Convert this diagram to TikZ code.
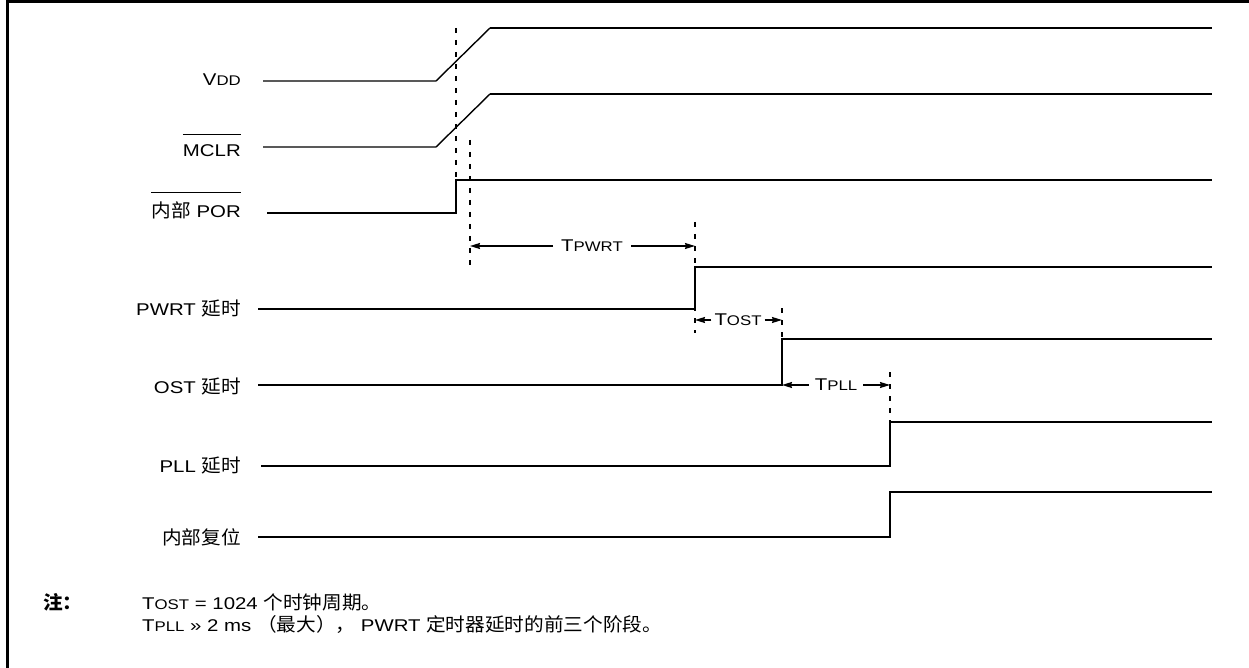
\documentclass[tikz,border=0pt]{standalone}
\usepackage{fontspec}
\setmainfont{Liberation Sans}[FakeStretch=1.2]
\newfontfamily\cjk{Noto Sans CJK SC}[FakeStretch=1.05,Scale=1.1]
\usetikzlibrary{arrows.meta}
\newcommand\smc[1]{{\fontsize{14}{14}\selectfont #1}}
\begin{document}
\begin{tikzpicture}[x=1pt,y=-1pt,
  lab/.style={anchor=base east, inner sep=0pt, font=\fontsize{17}{17}\selectfont},
  note/.style={anchor=base west, inner sep=0pt, font=\fontsize{17}{17}\selectfont},
  sig/.style={line width=2pt, line join=miter},
  thinsig/.style={line width=1.4pt, line join=miter},
  guide/.style={line width=1.8pt, dash pattern=on 5pt off 7pt},
  dimarrow/.style={line width=1.5pt, -{Stealth[length=10pt,width=6pt,inset=1pt]}},
  tlab/.style={inner ysep=0pt, font=\fontsize{17}{17}\selectfont, anchor=center},
  ovl/.style={line width=1pt}
]
\useasboundingbox (0,0) rectangle (1249,668);
% frame
\draw[line width=3pt] (7,668) -- (7,2) -- (1249,2);

% labels
\node[lab] (vdd) at (241,86) {V\smc{DD}};
\node[lab] (mclr) at (241,157) {MCLR};
\node[lab] (por) at (241,218) {{\cjk 内部} POR};
\node[lab] (pwrt) at (241,315) {PWRT {\cjk 延时}};
\node[lab] (ost) at (241,393) {OST {\cjk 延时}};
\node[lab] (pll) at (241,472) {PLL {\cjk 延时}};
\node[lab] (rst) at (241,544) {{\cjk 内部复位}};

\coordinate (olm) at (0,135);
\coordinate (olp) at (0,193);
\draw[ovl] (mclr.west |- olm) -- (mclr.east |- olm);
\draw[ovl] (por.west |- olp) -- (por.east |- olp);

% waveforms
\draw[thinsig] (263,81) -- (436,81) -- (490,28);
\draw[sig] (490,28) -- (1212,28);
\draw[thinsig] (263,147) -- (436,147) -- (490,94);
\draw[sig] (490,94) -- (1212,94);
\draw[sig] (267,213) -- (456,213) -- (456,180) -- (1212,180);
\draw[sig] (258,309) -- (695,309) -- (695,267) -- (1212,267);
\draw[sig] (258,385) -- (782,385) -- (782,339) -- (1212,339);
\draw[sig] (261,466) -- (890,466) -- (890,422) -- (1212,422);
\draw[sig] (258,537) -- (890,537) -- (890,492) -- (1212,492);

% guide lines
\coordinate (g1a) at (456,28);  \coordinate (g1b) at (456,183);
\coordinate (g2a) at (470,140); \coordinate (g2b) at (470,268);
\coordinate (g3a) at (695,222); \coordinate (g3b) at (695,333);
\coordinate (g4a) at (782,308); \coordinate (g4b) at (782,358);
\coordinate (g5a) at (890,372); \coordinate (g5b) at (890,422);
\draw[guide] (g1a) -- (g1b);
\draw[guide] (g2a) -- (g2b);
\draw[guide] (g3a) -- (g3b);
\draw[guide] (g4a) -- (g4b);
\draw[guide] (g5a) -- (g5b);

% timing arrows
\node[tlab, inner xsep=8pt] (tpwrt) at (592,246) {T\smc{PWRT}};
\node[tlab, inner xsep=3pt] (tost) at (738,320) {T\smc{OST}};
\node[tlab, inner xsep=6pt] (tpll) at (836,385) {T\smc{PLL}};
\draw[dimarrow] (tpwrt.west) -- (g2a |- tpwrt.west);
\draw[dimarrow] (tpwrt.east) -- (g3a |- tpwrt.east);
\draw[dimarrow] (tost.west) -- (g3a |- tost.west);
\draw[dimarrow] (tost.east) -- (g4a |- tost.east);
\draw[dimarrow] (tpll.west) -- (g4a |- tpll.west);
\draw[dimarrow] (tpll.east) -- (g5a |- tpll.east);

% notes
\node[note] (zhu) at (43,609) {\cjk\bfseries 注：};
\node[note] (n1) at (142,609) {T\smc{OST} = 1024 {\cjk 个时钟周期。}};
\node[note] (n2) at (142,631) {T\smc{PLL} » 2 ms {\cjk （最大），} PWRT {\cjk 定时器延时的前三个阶段。}};
\end{tikzpicture}
\end{document}
